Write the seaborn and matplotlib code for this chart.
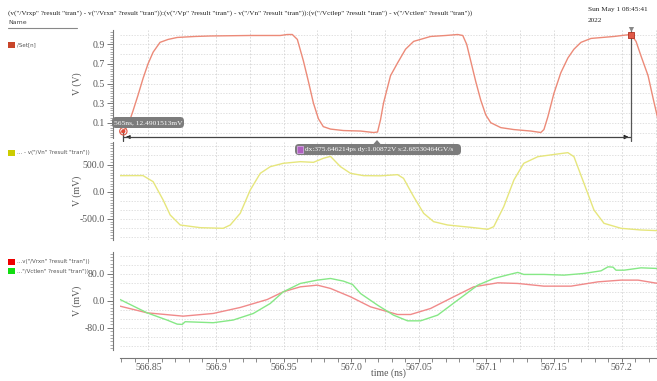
import numpy as np
import pandas as pd
import matplotlib
matplotlib.use("Agg")
import matplotlib.pyplot as plt
from matplotlib.patches import FancyBboxPatch
from matplotlib.ticker import MultipleLocator, FixedLocator
import seaborn as sns

# ---- waveform samples (time in ns) ----
set_t = [566.8291, 566.8313, 566.8350, 566.8387, 566.8424, 566.8461, 566.8498,
         566.8536, 566.8587, 566.8647, 566.8714, 566.8847, 566.8958, 566.9254,
         566.9476, 566.9528, 566.9565, 566.9602, 566.9647, 566.9684, 566.9721,
         566.9758, 566.9794, 566.9847, 566.9943, 567.0069, 567.0165, 567.0195,
         567.0217, 567.0239, 567.0291, 567.0343, 567.0402, 567.0462, 567.0587,
         567.0699, 567.0787, 567.0825, 567.0854, 567.0884, 567.0921, 567.0958,
         567.0995, 567.1032, 567.1106, 567.1203, 567.1328, 567.1402, 567.1425,
         567.1454, 567.1499, 567.1550, 567.1602, 567.1647, 567.1699, 567.1773,
         567.1943, 567.2032, 567.2069, 567.2106, 567.2143, 567.2195, 567.2232,
         567.2269]
set_v = [0.000, 0.0125, 0.07, 0.22, 0.38, 0.55, 0.70,
         0.82, 0.92, 0.95, 0.97, 0.98, 0.985, 0.99,
         0.99, 1.000, 1.000, 0.95, 0.73, 0.52, 0.30,
         0.14, 0.06, 0.035, 0.02, 0.015, 0.000, 0.005,
         0.13, 0.30, 0.58, 0.71, 0.85, 0.93, 0.98,
         0.99, 1.000, 0.99, 0.90, 0.73, 0.52, 0.33,
         0.18, 0.10, 0.05, 0.03, 0.015, 0.000, 0.03,
         0.16, 0.40, 0.61, 0.76, 0.85, 0.92, 0.96,
         0.98, 0.995, 1.000, 0.93, 0.78, 0.58, 0.35,
         0.13]

vn_t = [566.8291, 566.8461, 566.8536, 566.8610, 566.8662, 566.8736, 566.8884,
        566.9054, 566.9106, 566.9180, 566.9254, 566.9328, 566.9402, 566.9498,
        566.9624, 566.9721, 566.9794, 566.9847, 566.9921, 566.9995, 567.0091,
        567.0217, 567.0343, 567.0387, 567.0462, 567.0536, 567.0610, 567.0713,
        567.0884, 567.1010, 567.1054, 567.1128, 567.1203, 567.1276, 567.1380,
        567.1528, 567.1602, 567.1647, 567.1721, 567.1795, 567.1869, 567.1995,
        567.2143, 567.2269]
vn_mv = [295, 296, 184, -153, -429, -613, -662,
         -674, -613, -398, 31, 338, 460, 522,
         552, 540, 614, 650, 460, 338, 295,
         292, 313, 246, -92, -398, -552, -613,
         -656, -692, -644, -276, 215, 522, 644,
         694, 718, 644, 154, -337, -582, -674,
         -705, -717]

rx_t = [566.8291, 566.8491, 566.8758, 566.8980, 566.9180, 566.9380, 566.9498,
        566.9624, 566.9750, 566.9847, 566.9995, 567.0143, 567.0343, 567.0439,
        567.0587, 567.0758, 567.0906, 567.1084, 567.1232, 567.1425, 567.1625,
        567.1825, 567.1995, 567.2121, 567.2269]
rx_mv = [-15.8, -35.6, -45.5, -37.5, -19.7, 4.0, 26.8,
         41.6, 46.6, 36.8, 12.0, -17.8, -40.6, -40.6,
         -22.7, 12.0, 41.6, 53.5, 51.6, 43.6, 43.6,
         56.4, 61.5, 61.5, 51.6]

ctl_t = [566.8291, 566.8491, 566.8640, 566.8714, 566.8751, 566.8773, 566.8980,
         566.9128, 566.9276, 566.9402, 566.9498, 566.9624, 566.9750, 566.9847,
         566.9943, 567.0010, 567.0069, 567.0195, 567.0313, 567.0417, 567.0513,
         567.0639, 567.0787, 567.0936, 567.1054, 567.1180, 567.1232, 567.1276,
         567.1425, 567.1573, 567.1721, 567.1847, 567.1899, 567.1936, 567.1958,
         567.2017, 567.2143, 567.2269]
ctl_mv = [4.0, -35.6, -57.3, -69.2, -70.0, -62.0, -65.0,
          -57.0, -37.6, -7.8, 26.8, 51.6, 61.5, 66.4,
          58.5, 48.6, 21.8, -12.8, -42.5, -59.4, -59.4,
          -42.5, 2.0, 46.6, 66.4, 79.3, 84.3, 78.4,
          78.4, 76.3, 81.3, 89.1, 101.0, 100.0, 91.0,
          91.0, 98.0, 96.0]

x_ticks = [566.85, 566.9, 566.95, 567.0, 567.05, 567.1, 567.15, 567.2]
x_tick_labels = ["566.85", "566.9", "566.95", "567.0", "567.05", "567.1", "567.15", "567.2"]

cursor_a = (566.83157, 0.0124901513)
cursor_dx = 0.375646214
cursor_b = (cursor_a[0] + cursor_dx, 1.0)

title = ('(v("/Vrxp" ?result "tran") - v("/Vrxn" ?result "tran")):(v("/Vp" ?result "tran") - '
         'v("/Vn" ?result "tran")):(v("/Vctlep" ?result "tran") - v("/Vctlen" ?result "tran"))')

# ---- figure ----
sns.set_theme(style="white")
plt.rcParams["font.family"] = ["Liberation Serif", "DejaVu Serif"]

W, H = 657, 381
fig = plt.figure(figsize=(W / 100, H / 100), dpi=100)
fig.patch.set_facecolor("white")


def fx(x):
    return x / W


def fy(y):
    return 1 - y / H


def px_axes(x0, y0, x1, y1):
    return fig.add_axes([x0 / W, 1 - y1 / H, (x1 - x0) / W, (y1 - y0) / H])


XLIM = (566.8291, 567.2261)
ax1 = px_axes(120, 30, 657, 138)
ax2 = px_axes(120, 142, 657, 240)
ax3 = px_axes(120, 252, 657, 350)

tick_col = "#555555"
grid_col = "#d4d4d4"


def style(ax, ylim, major, minor, hgrid, fmt):
    ax.set_xlim(*XLIM)
    ax.set_ylim(*ylim)
    ax.set_facecolor("white")
    for s in ("top", "right", "bottom"):
        ax.spines[s].set_visible(False)
    ax.spines["left"].set_position(("outward", 5))
    ax.spines["left"].set_color("#777777")
    ax.spines["left"].set_linewidth(0.8)
    ax.yaxis.set_major_locator(FixedLocator(major))
    ax.yaxis.set_minor_locator(MultipleLocator(minor))
    ax.set_yticklabels([fmt(v) for v in major])
    ax.tick_params(axis="y", which="major", left=True, length=4, width=0.7,
                   color="#777777", labelsize=7, labelcolor=tick_col, pad=2)
    ax.tick_params(axis="y", which="minor", left=True, length=2, width=0.5,
                   color="#888888")
    for v in hgrid:
        ax.axhline(v, color=grid_col, lw=0.5, ls=(0, (2, 2)), zorder=0)
    for t in np.arange(566.85, 567.23, 0.025):
        ax.axvline(t, color=grid_col, lw=0.6, ls=(0, (2, 2)), zorder=0)
    ax.set_xlabel("")
    ax.set_ylabel("")


df1 = pd.DataFrame({"t": set_t, "v": set_v})
df2 = pd.DataFrame({"t": vn_t, "v": vn_mv})
df3 = pd.DataFrame({"t": rx_t + ctl_t,
                    "v": rx_mv + ctl_mv,
                    "s": ["rx"] * len(rx_t) + ["ctl"] * len(ctl_t)})

sns.lineplot(data=df1, x="t", y="v", ax=ax1, color="#ec8a78", lw=1.0, legend=False)
sns.lineplot(data=df2, x="t", y="v", ax=ax2, color="#e6e67c", lw=1.0, legend=False)
sns.lineplot(data=df3, x="t", y="v", hue="s", ax=ax3,
             palette={"rx": "#f08a8a", "ctl": "#86e886"}, lw=1.0, legend=False,
             sort=False)

style(ax1, (-0.056, 1.046), [0.1, 0.3, 0.5, 0.7, 0.9], 0.025,
      np.arange(0.0, 1.05, 0.1), lambda v: f"{v:.1f}")
style(ax2, (-889, 914), [-500, 0, 500], 50,
      np.arange(-5, 6) * 500 / 3, lambda v: f"{v:.1f}")
style(ax3, (-146, 145), [-80, 0, 80], 10,
      np.arange(-5, 6) * 80 / 3, lambda v: f"{v:.1f}")

for ax in (ax1, ax2):
    ax.tick_params(axis="x", which="both", bottom=False, labelbottom=False)

ax3.spines["bottom"].set_visible(True)
ax3.spines["bottom"].set_position(("outward", 6))
ax3.spines["bottom"].set_color("#777777")
ax3.spines["bottom"].set_linewidth(0.8)
ax3.xaxis.set_major_locator(FixedLocator(x_ticks))
ax3.xaxis.set_minor_locator(MultipleLocator(0.01))
ax3.set_xticklabels(x_tick_labels)
ax3.tick_params(axis="x", which="major", bottom=True, length=3, width=0.7,
                color="#777777", labelsize=7, labelcolor=tick_col, pad=0.5)
ax3.tick_params(axis="x", which="minor", bottom=True, length=3, width=0.6,
                color="#777777")
ax3.set_xlabel("time (ns)", fontsize=7, color=tick_col, va="center")
ax3.xaxis.set_label_coords(0.5, -(373 - 350) / 98)

ax1.set_ylabel("V (V)", fontsize=7, color=tick_col)
ax2.set_ylabel("V (mV)", fontsize=7, color=tick_col)
ax3.set_ylabel("V (mV)", fontsize=7, color=tick_col)
for ax in (ax1, ax2, ax3):
    ax.yaxis.set_label_coords(-38 / 537, 0.5)

# ---- cursors ----
ya, yb = cursor_a[1], cursor_b[1]
y_arrow = -0.046
ax1.plot([cursor_a[0], cursor_b[0]], [y_arrow, y_arrow], color="#444444", lw=0.9,
         clip_on=False, zorder=5)
ax1.annotate("", xy=(cursor_b[0], y_arrow), xytext=(cursor_b[0] - 0.006, y_arrow),
             arrowprops=dict(arrowstyle="-|>", color="#222222", lw=0.8,
                             mutation_scale=6), annotation_clip=False)
ax1.annotate("", xy=(cursor_a[0], y_arrow), xytext=(cursor_a[0] + 0.005, y_arrow),
             arrowprops=dict(arrowstyle="-|>", color="#222222", lw=0.8,
                             mutation_scale=5), annotation_clip=False)
ax1.plot([cursor_b[0], cursor_b[0]], [-0.085, 1.035], color="#555555", lw=0.9,
         clip_on=False, zorder=5)
ax1.plot([cursor_a[0], cursor_a[0]], [-0.01, -0.085], color="#444444", lw=0.9,
         clip_on=False, zorder=5)
ax1.scatter([cursor_a[0]], [ya], s=28, facecolor="none", edgecolor="#e05a48",
            lw=0.8, zorder=6, clip_on=False)
ax1.scatter([cursor_a[0]], [ya], s=9, facecolor="#e04a38", edgecolor="none",
            zorder=7, clip_on=False)
ax1.scatter([cursor_b[0]], [yb], s=18, marker="s", facecolor="#e05a48",
            edgecolor="#b03020", lw=0.6, zorder=7, clip_on=False)
ax1.scatter([cursor_b[0]], [1.05], s=14, marker="v", facecolor="#888888",
            edgecolor="none", zorder=7, clip_on=False)


def label_box(x0, y0, x1, y1):
    box = FancyBboxPatch((fx(x0), fy(y1)), fx(x1 - x0), (y1 - y0) / H,
                         boxstyle="round,pad=0,rounding_size=0.006",
                         transform=fig.transFigure, fc="#7c7c7c", ec="none",
                         zorder=9, mutation_aspect=W / H)
    fig.patches.append(box)


# value box for cursor A
label_box(112, 117, 184, 128)
fig.text(fx(114), fy(122.8), "565ns, 12.4901513mV", fontsize=5.4, color="white",
         va="center", ha="left", zorder=10)

# delta box between cursors
xc = 377
label_box(295, 144, 461, 155)
fig.patches.append(plt.Polygon([[fx(xc - 3.5), fy(144)], [fx(xc + 3.5), fy(144)],
                                [fx(xc), fy(140)]], closed=True,
                               transform=fig.transFigure, fc="#7c7c7c", ec="none",
                               zorder=9))
fig.patches.append(plt.Rectangle((fx(297), fy(153)), 6 / W, 7 / H,
                                 transform=fig.transFigure, fc="#b060c0",
                                 ec="#e0b0f0", lw=0.5, zorder=10))
fig.text(fx(305), fy(149.8), "dx:375.646214ps dy:1.00872V s:2.68530464GV/s",
         fontsize=5.3, color="white", va="center", ha="left", zorder=10)

# ---- header ----
fig.text(fx(8), fy(13), title, fontsize=5.2, color="#222222", va="center", ha="left")
fig.text(fx(588), fy(10), "Sun May 1 08:45:41", fontsize=5.2, color="#222222",
         va="center", ha="left")
fig.text(fx(588), fy(20), "2022", fontsize=5.2, color="#222222", va="center", ha="left")

# ---- signal list ----
sans = ["DejaVu Sans"]
fig.text(fx(8), fy(23), "Name", fontsize=4.5, color="#444444", va="center",
         ha="left", family=sans)
fig.add_artist(plt.Line2D([fx(8), fx(77)], [fy(28), fy(28)], color="#888888",
                          lw=0.8, transform=fig.transFigure))

legend_rows = [
    (45, "#c8452a", "/Set[n]"),
    (153, "#cccc00", '... - v("/Vn" ?result "tran"))'),
    (262, "#ee0000", '...v("/Vrxn" ?result "tran"))'),
    (271, "#11dd11", '..."/Vctlen" ?result "tran"))'),
]
for y, col, label in legend_rows:
    fig.patches.append(plt.Rectangle((fx(8), fy(y + 3)), 7 / W, 6 / H,
                                     transform=fig.transFigure, fc=col, ec="none"))
    fig.text(fx(17), fy(y), label, fontsize=4, color="#555555", va="center",
             ha="left", family=sans)

fig.savefig("out.png", dpi=100, facecolor="white")
